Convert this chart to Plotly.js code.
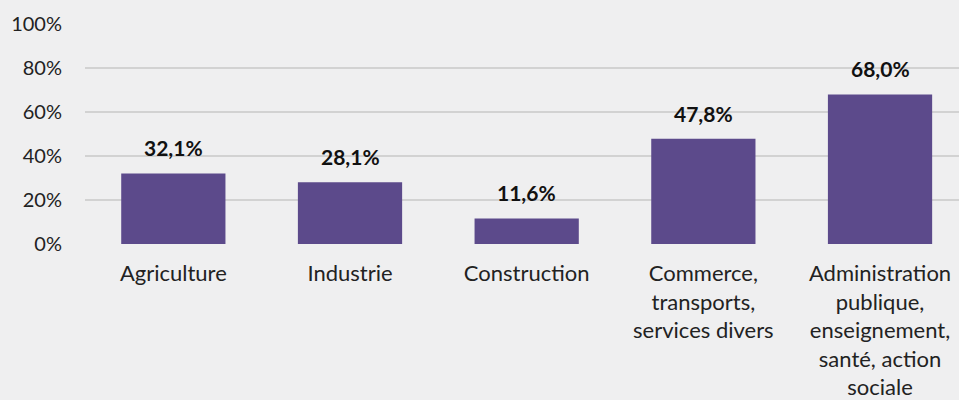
<!DOCTYPE html>
<html><head><meta charset="utf-8">
<script src="https://cdn.plot.ly/plotly-3.0.1.min.js"></script>
<style>html,body{margin:0;padding:0;background:#efeff0;}#c{width:959px;height:400px;}</style>
</head><body><div id="c"></div>
<script>
const categories = ["Agriculture","Industrie","Construction","Commerce,<br>transports,<br>services divers","Administration<br>publique,<br>enseignement,<br>santé, action<br>sociale"];
const values = [32.1, 28.1, 11.6, 47.8, 68.0];
const valueLabels = ["32,1%","28,1%","11,6%","47,8%","68,0%"];
const tickVals = [0,20,40,60,80,100];
const tickText = ["0%","20%","40%","60%","80%","100%"];

const font = "Lato, 'Open Sans', sans-serif";
const trace = {
  type: 'bar', x: categories, y: values,
  marker: {color: '#5c4a8b', line: {width: 0}},
  hoverinfo: 'none'
};
const annotations = categories.map((c,i)=>({
  x: c, y: values[i], text: '<b>'+valueLabels[i]+'</b>', showarrow: false,
  yanchor: 'bottom', yshift: 11, font: {family: font, size: 21, color: '#111'}
}));
const layout = {
  width: 959, height: 400,
  margin: {l: 85, r: 0, t: 24, b: 156, pad: 0},
  paper_bgcolor: '#efeff0', plot_bgcolor: 'rgba(0,0,0,0)',
  bargap: 0.41,
  showlegend: false,
  xaxis: {range: [-0.5, 4.447], showgrid: false, zeroline: false, showline: false,
    ticks: '', tickfont: {family: font, size: 22, color: '#222'}, ticklabelstandoff: 14, fixedrange: true},
  yaxis: {range: [0, 100], tickvals: tickVals, ticktext: tickText, showgrid: true,
    gridcolor: '#d2d2d2', gridwidth: 1.5, zeroline: false, showline: false, ticks: '',
    tickfont: {family: font, size: 20, color: '#222'}, ticklabelstandoff: 22, fixedrange: true},
  annotations: annotations
};
Plotly.newPlot('c', [trace], layout, {displayModeBar: false, staticPlot: true});
</script></body></html>
